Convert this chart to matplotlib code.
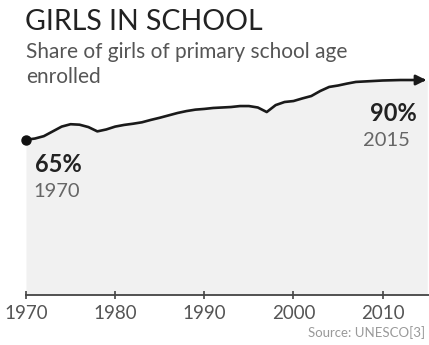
import matplotlib
matplotlib.use("Agg")
import matplotlib.pyplot as plt
import numpy as np

years = list(range(1970, 2016))
share = [65.0, 65.5, 66.5, 68.5, 70.5, 71.5, 71.3, 70.3, 68.5, 69.3,
         70.5, 71.2, 71.7, 72.3, 73.3, 74.2, 75.2, 76.2, 77.0, 77.6,
         77.9, 78.3, 78.5, 78.7, 79.1, 79.1, 78.5, 76.6, 79.5, 80.8,
         81.2, 82.3, 83.3, 85.4, 87.1, 87.7, 88.5, 89.2, 89.4, 89.6,
         89.8, 89.9, 90.0, 90.0, 90.0, 90.0]
tick_years = [1970, 1980, 1990, 2000, 2010]

W, H = 429, 345
fig = plt.figure(figsize=(W / 100, H / 100), dpi=100)
fig.patch.set_facecolor("white")

def fx(x):
    return x / W

def fy(y):
    return 1 - y / H

FONT = "Lato"
ax = fig.add_axes([fx(26), fy(295), fx(429) - fx(26), fy(0) - fy(295)])
ax.set_xlim(1970, 2015.2)
ax.set_ylim(0, 123.5)
ax.set_facecolor("none")
for s in ["top", "right", "left"]:
    ax.spines[s].set_visible(False)
ax.spines["bottom"].set_color("#444444")
ax.spines["bottom"].set_linewidth(1.3)
ax.spines["bottom"].set_clip_on(False)
ax.set_yticks([])
ax.set_xticks(tick_years)
ax.set_xticklabels([str(t) for t in tick_years], family=FONT, fontsize=13.5, color="#555555")
ax.tick_params(axis="x", direction="inout", length=6, width=1.2, color="#444444", pad=4)

ax.fill_between(years, share, 0, color="#f1f1f1", lw=0)
ax.plot(years[:-1], share[:-1], color="#1a1a1a", lw=1.9, solid_capstyle="round")
ax.annotate("", xy=(years[-1] + 0.2, share[-1]), xytext=(years[-2], share[-2]),
            arrowprops=dict(arrowstyle="-|>,head_length=0.6,head_width=0.3",
                            color="#1a1a1a", lw=1.9), annotation_clip=False)
ax.plot([years[0]], [share[0]], "o", color="#111111", ms=6.5, clip_on=False, zorder=5)

fig.text(fx(25), fy(30), "GIRLS IN SCHOOL", family=FONT, fontsize=20.5, color="#222222", va="baseline")
fig.text(fx(26), fy(58), "Share of girls of primary school age", family=FONT, fontsize=15, color="#555555", va="baseline")
fig.text(fx(26), fy(83), "enrolled", family=FONT, fontsize=15, color="#555555", va="baseline")

fig.text(fx(35), fy(172), f"{share[0]:.0f}%", family=FONT, fontsize=17, weight="bold", color="#222222", va="baseline")
fig.text(fx(33), fy(197), str(years[0]), family=FONT, fontsize=14.5, color="#666666", va="baseline")
fig.text(fx(417), fy(121), f"{share[-1]:.0f}%", family=FONT, fontsize=17, weight="bold", color="#222222", va="baseline", ha="right")
fig.text(fx(410), fy(146), str(years[-1]), family=FONT, fontsize=14.5, color="#666666", va="baseline", ha="right")

fig.text(fx(425), fy(337), "Source: UNESCO[3]", family=FONT, fontsize=9.5, color="#999999", va="baseline", ha="right")

fig.savefig("out.png", dpi=100, facecolor="white")
